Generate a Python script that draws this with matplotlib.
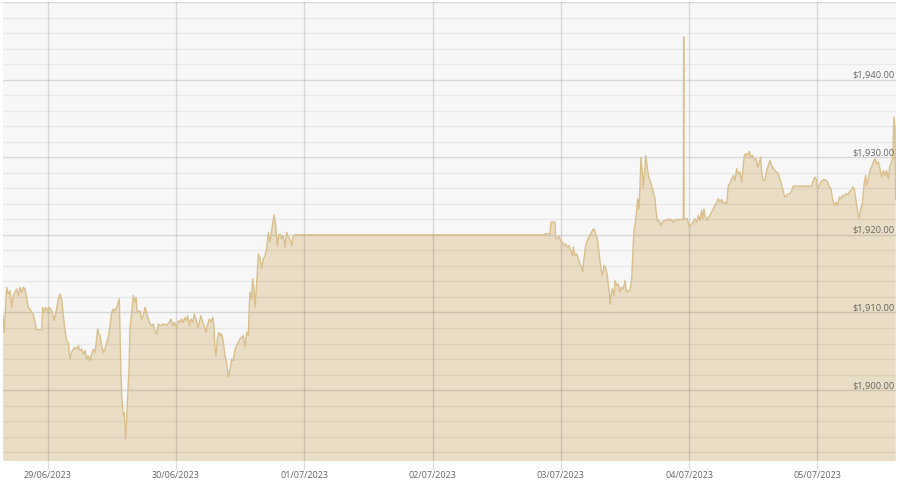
import matplotlib
matplotlib.use('Agg')
import matplotlib.pyplot as plt
import matplotlib.dates as mdates
import matplotlib.transforms as mtransforms
from matplotlib.ticker import MultipleLocator
from datetime import datetime, timedelta

# ---- data (hours since 29/06/2023 00:00, gold price in USD) ----
start = datetime(2023, 6, 29)
hours = [
    -8.36, -8.11, -7.68, -7.36, -7.05, -6.74, -6.43, -6.12, -5.81, -5.49, -5.18, -4.87, -4.56, -4.25,
    -3.94, -3.62, -3.31, -3.00, -2.69, -2.38, -2.07, -1.13, -0.94, -0.69, -0.38, -0.07, 0.24, 0.55,
    0.87, 1.18, 1.55, 1.99, 2.30, 2.61, 2.92, 3.24, 3.55, 3.86, 4.17, 4.48, 4.79, 5.11, 5.42, 5.73,
    6.04, 6.35, 6.67, 6.98, 7.29, 7.60, 7.91, 8.22, 8.54, 8.85, 9.16, 9.35, 9.60, 9.78, 10.09, 10.41,
    10.72, 11.03, 11.34, 11.65, 11.97, 12.28, 12.59, 12.90, 13.21, 13.40, 13.65, 13.84, 14.15, 14.33,
    14.58, 14.77, 14.96, 15.21, 15.39, 15.71, 16.02, 16.33, 16.52, 16.77, 17.26, 17.58, 17.89, 18.20,
    18.51, 18.82, 19.14, 19.45, 19.76, 20.07, 20.38, 20.69,
    21.01, 21.63, 22.25, 22.75, 23.06, 23.38, 23.69, 24.12, 24.44, 24.75, 25.06, 25.37, 25.68, 25.99,
    26.18, 26.49, 26.81, 27.12, 27.43, 27.74, 28.05, 28.36, 28.68, 28.99, 29.30, 29.61, 29.92, 30.23,
    30.55, 30.86, 31.11, 31.29, 31.48, 31.73, 32.04, 32.35, 32.54, 32.85, 33.17, 33.48, 33.79, 34.10,
    34.41, 34.72, 35.04, 35.35, 35.66, 35.97, 36.28, 36.59, 36.91, 37.22, 37.53, 37.72, 37.84, 38.15,
    38.34, 38.59, 38.78, 39.09, 39.40, 39.71, 40.02, 40.34, 40.65, 40.96, 41.27, 41.58, 41.89, 42.21,
    42.39, 42.64, 42.95, 43.20, 43.45, 43.77, 44.08, 44.39, 44.70, 45.01, 45.32, 45.64, 45.95, 46.26,
    93.00, 93.03, 93.96, 94.15, 94.90, 95.02, 95.33, 95.64, 95.96, 96.27, 96.58, 96.89, 97.20, 97.52,
    97.83, 98.14, 98.33, 98.64, 98.95, 99.26, 99.57, 99.88, 100.07, 100.32, 100.63, 100.94, 101.26,
    101.57, 101.88, 102.19, 102.50, 102.82, 103.13, 103.44, 103.75, 104.06, 104.37, 104.69, 104.87,
    105.06, 105.18, 105.37, 105.62, 105.93, 106.12, 106.43, 106.74, 107.06, 107.37, 107.68, 107.99,
    108.30, 108.61, 108.93, 109.24, 109.42, 109.67, 109.99, 110.17, 110.36, 110.61, 110.80, 110.98,
    111.17, 111.42, 111.61, 111.86, 112.04, 112.36, 112.67, 112.98, 113.29, 113.60, 113.79, 114.04,
    114.35, 114.66, 114.97, 115.29, 115.78, 116.10, 116.41, 116.72, 117.03, 117.34, 117.66, 118.28,
    118.90, 118.97, 119.03, 119.65, 120.02,
    120.46, 120.77, 121.09, 121.40, 121.71, 122.02, 122.33, 122.52, 122.77, 122.96, 123.27, 123.58,
    123.89, 124.20, 124.51, 124.83, 125.14, 125.45, 125.76, 126.07, 126.39, 126.70, 127.01, 127.32,
    127.63, 127.94, 128.26, 128.57, 128.88, 129.19, 129.50, 129.82, 130.13, 130.31, 130.62, 130.94,
    131.25, 131.56, 131.87, 132.18, 132.50, 132.81, 133.12, 133.37, 133.56, 133.87, 134.18, 134.49,
    134.80, 135.11, 135.43, 135.74, 136.05, 136.36, 136.67, 136.99, 137.30, 137.61, 137.92, 138.23,
    138.54, 138.86, 139.17, 139.48, 142.91, 143.22, 143.53, 143.84, 144.03, 144.34, 144.66, 144.97,
    145.28, 145.59, 145.90, 146.21, 146.53, 146.84, 147.15, 147.46, 147.77, 148.09, 148.40, 148.71,
    149.02, 149.33, 149.64, 149.96, 150.27, 150.58, 150.89, 151.20, 151.51, 151.76, 152.08, 152.39,
    152.57, 152.76, 153.01, 153.20, 153.51, 153.82, 154.13, 154.44, 154.76, 155.07, 155.38, 155.69,
    156.00, 156.31, 156.63, 156.94, 157.25, 157.56, 157.87, 158.06, 158.31, 158.50, 158.63,
]
prices = [
    1909.59, 1907.44, 1913.24, 1912.38, 1912.81, 1910.66, 1912.17, 1912.60, 1913.03, 1912.17, 1913.24,
    1912.60, 1913.24, 1913.03, 1911.95, 1910.66, 1910.45, 1910.02, 1909.80, 1908.73, 1907.78, 1907.78,
    1910.66, 1910.02, 1910.66, 1910.23, 1910.66, 1910.45, 1910.02, 1908.94, 1910.02, 1911.74, 1912.38,
    1911.74, 1909.59, 1907.65, 1906.36, 1906.15, 1904.00, 1904.86, 1905.29, 1905.50, 1905.29, 1905.72,
    1905.07, 1905.29, 1904.64, 1905.07, 1904.00, 1904.43, 1903.78, 1904.64, 1905.29, 1904.86, 1906.58,
    1907.87, 1907.22, 1907.01, 1905.72, 1904.86, 1905.29, 1906.15, 1906.79, 1908.30, 1910.02, 1910.45,
    1910.23, 1910.66, 1911.31, 1911.74, 1903.57, 1899.27, 1896.69, 1897.12, 1893.67, 1896.26, 1899.27,
    1902.71, 1907.87, 1910.02, 1912.17, 1911.31, 1911.95, 1910.02, 1910.23, 1909.16, 1909.59, 1910.66,
    1910.02, 1909.16, 1908.51, 1908.30, 1908.51, 1907.65, 1907.22, 1908.51,
    1908.30, 1908.51, 1908.38, 1908.73, 1909.16, 1908.30, 1908.73, 1908.08, 1908.94, 1908.73, 1909.16,
    1908.73, 1909.37, 1908.94, 1909.59, 1908.30, 1909.16, 1908.73, 1909.80, 1909.16, 1908.08, 1908.73,
    1909.59, 1908.73, 1908.30, 1907.44, 1908.51, 1909.16, 1908.73, 1909.37, 1908.30, 1905.29, 1904.43,
    1906.58, 1907.44, 1907.01, 1907.22, 1906.15, 1904.43, 1903.57, 1901.63, 1902.70, 1904.00, 1903.78,
    1905.29, 1905.72, 1906.15, 1906.58, 1906.79, 1907.01, 1905.50, 1907.44, 1907.01, 1910.88, 1912.60,
    1911.74, 1914.32, 1913.03, 1910.66, 1913.67, 1917.54, 1917.11, 1915.61, 1916.90, 1917.33, 1918.19,
    1920.34, 1919.05, 1920.55, 1922.06, 1922.58, 1921.20, 1918.62, 1919.91, 1920.12, 1919.48, 1919.91,
    1918.40, 1920.34, 1919.69, 1919.48, 1918.62, 1919.91, 1920.00,
    1920.00, 1920.13, 1920.13, 1921.64, 1921.64, 1919.70, 1919.49, 1919.83, 1919.27, 1919.06, 1918.63,
    1918.84, 1918.41, 1918.63, 1917.98, 1917.34, 1918.41, 1917.34, 1917.55, 1916.91, 1916.26, 1915.83,
    1915.27, 1916.91, 1918.63, 1919.27, 1919.70, 1920.13, 1920.56, 1920.78, 1920.13, 1919.49, 1917.77,
    1915.83, 1914.76, 1916.05, 1915.83, 1914.76, 1913.47, 1912.61, 1911.10, 1912.18, 1913.04, 1912.18,
    1914.11, 1913.47, 1913.68, 1912.61, 1913.25, 1913.04, 1914.11, 1912.61, 1912.82, 1912.82, 1914.32,
    1916.91, 1920.56, 1921.85, 1923.14, 1924.65, 1923.36, 1926.37, 1930.02, 1928.52, 1926.15, 1927.66,
    1930.24, 1929.38, 1927.66, 1927.01, 1926.37, 1925.51, 1924.65, 1923.14, 1921.85, 1921.85, 1921.21,
    1921.64, 1921.85, 1921.85, 1922.07, 1921.85, 1921.98, 1921.64, 1921.85, 1921.98, 1921.94, 1922.07,
    1945.50, 1922.07, 1922.07, 1920.99,
    1921.42, 1921.64, 1922.07, 1921.64, 1922.50, 1921.85, 1923.14, 1922.07, 1923.36, 1922.50, 1921.85,
    1922.28, 1922.50, 1922.93, 1923.36, 1923.79, 1924.22, 1924.65, 1924.22, 1924.56, 1924.00, 1924.22,
    1924.00, 1926.37, 1926.58, 1927.23, 1927.66, 1927.01, 1928.52, 1927.87, 1928.09, 1926.80, 1928.95,
    1930.24, 1930.45, 1930.24, 1930.75, 1930.02, 1930.24, 1929.59, 1929.81, 1928.73, 1929.38, 1930.02,
    1928.09, 1927.01, 1927.01, 1928.30, 1928.95, 1929.59, 1928.95, 1928.52, 1928.30, 1928.09, 1927.87,
    1927.23, 1926.37, 1925.51, 1924.86, 1925.08, 1925.29, 1925.29, 1925.72, 1926.28, 1926.28, 1927.01,
    1927.44, 1927.01, 1925.94, 1926.37, 1926.80, 1927.01, 1927.14, 1927.01, 1926.80, 1926.15, 1925.94,
    1924.43, 1923.79, 1924.22, 1923.79, 1924.86, 1924.65, 1925.08, 1924.99, 1925.29, 1925.16, 1925.51,
    1925.72, 1926.15, 1925.94, 1924.43, 1922.93, 1922.07, 1923.36, 1924.00, 1925.51, 1926.80, 1927.66,
    1926.37, 1927.23, 1928.30, 1928.73, 1929.38, 1929.81, 1929.16, 1929.38, 1928.52, 1927.44, 1928.30,
    1927.66, 1928.30, 1927.23, 1928.95, 1929.38, 1929.81, 1935.18, 1933.68, 1924.65,
]
y_label_values = [1900, 1910, 1920, 1930, 1940]
x_range_hours = (-8.36, 158.63)
y_range = (1890.9, 1950.0)

plt.rcParams['font.family'] = ['Open Sans', 'DejaVu Sans']

times = [start + timedelta(hours=h) for h in hours]

fig = plt.figure(figsize=(9, 4.81), dpi=100)
fig.patch.set_facecolor('white')
ax = fig.add_axes([3 / 900, 19.3 / 481, 892.7 / 900, 458.7 / 481])
ax.set_facecolor('#f7f7f7')

ax.fill_between(times, prices, y_range[0] - 10, color='#e9ddc6', lw=0, zorder=1)
ax.plot(times, prices, color='#d9bf8c', lw=1.0, zorder=4)

ax.set_xlim(start + timedelta(hours=x_range_hours[0]), start + timedelta(hours=x_range_hours[1]))
ax.set_ylim(*y_range)

ax.yaxis.set_major_locator(MultipleLocator(10))
ax.yaxis.set_minor_locator(MultipleLocator(2))
ax.xaxis.set_major_locator(mdates.DayLocator())
ax.xaxis.set_major_formatter(mdates.DateFormatter('%d/%m/%Y'))

ax.grid(which='major', axis='y', color='black', alpha=0.12, lw=1.0, zorder=3)
ax.grid(which='minor', axis='y', color='black', alpha=0.055, lw=1.0, zorder=3)
ax.grid(which='major', axis='x', color='black', alpha=0.12, lw=1.0, zorder=3)
ax.set_axisbelow(False)

for s in ax.spines.values():
    s.set_visible(False)

ax.tick_params(axis='y', which='both', length=0, labelleft=False, labelright=False)
ax.tick_params(axis='x', which='major', length=5.5, width=1.0, color='#dcdcdc',
               labelsize=6.5, labelcolor='#666666', pad=1.5)

trans = mtransforms.blended_transform_factory(ax.transAxes, ax.transData)
trans = mtransforms.offset_copy(trans, fig=fig, x=0, y=0.5, units='dots')
for v in y_label_values:
    ax.text(0.9984, v, f'${v:,.2f}', transform=trans, ha='right', va='bottom',
            fontsize=6.7, color='#666666', zorder=5)

fig.savefig('out.png', dpi=100, facecolor='white')
